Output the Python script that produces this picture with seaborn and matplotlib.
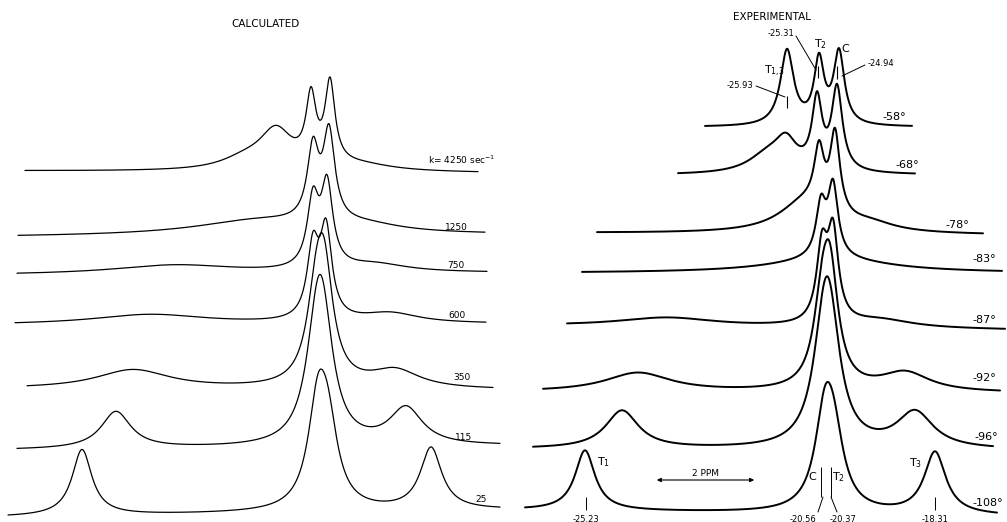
import numpy as np
import matplotlib
matplotlib.use("Agg")
import matplotlib.pyplot as plt
import seaborn as sns

# Shift axis in ppm (same scale as the -108 deg spectrum), intensities in arbitrary units
# Each spectrum = sum of Lorentzian lines: centre (ppm), amplitude, half width (ppm)

# ---- calculated spectra ----
calc_labels = ["k= 4250 sec$^{-1}$", "1250", "750", "600", "350", "115", "25"]
calc_start = [-26.371, -26.510, -26.530, -26.569, -26.331, -26.530, -26.708]
calc_end = [-17.383, -17.245, -17.205, -17.225, -17.086, -16.947, -16.947]
calc_centers = [
    [-22.006, -21.391, -20.697, -20.320, -19.725],
    [-21.709, -20.657, -20.340, -19.625],
    [-23.395, -20.657, -20.379, -19.427],
    [-23.891, -20.657, -20.399, -19.129],
    [-24.228, -20.598, -20.439, -19.030],
    [-24.566, -20.578, -20.459, -18.812],
    [-25.240, -20.558, -20.359, -18.316],
]
calc_heights = [
    [10, 38, 65, 80, 6],
    [15, 71.6, 87.5, 7],
    [9, 66.6, 80.7, 8],
    [10, 70.2, 86.5, 10],
    [19, 67, 105, 18],
    [37, 90, 90, 37],
    [66, 98.5, 66.9, 62],
]
calc_widths = [
    [0.595, 0.397, 0.119, 0.119, 0.794],
    [1.587, 0.139, 0.139, 0.893],
    [1.488, 0.139, 0.139, 0.794],
    [1.389, 0.139, 0.139, 0.694],
    [0.893, 0.218, 0.218, 0.595],
    [0.357, 0.258, 0.258, 0.397],
    [0.238, 0.238, 0.238, 0.258],
]

# ---- experimental spectra ----
exp_labels = ["-58°", "-68°", "-78°", "-83°", "-87°", "-92°", "-96°", "-108°"]
exp_start = [-22.869, -23.405, -25.012, -25.310, -25.607, -26.083, -26.282, -26.440]
exp_end = [-18.762, -18.703, -17.354, -16.977, -16.917, -17.016, -17.155, -17.076]
exp_centers = [
    [-21.242, -20.607, -20.211],
    [-21.619, -21.262, -20.647, -20.250],
    [-20.885, -20.607, -20.290, -19.596],
    [-20.389, -20.568, -20.330],
    [-23.623, -20.548, -20.330, -19.397],
    [-24.199, -20.548, -20.389, -18.901],
    [-24.516, -20.508, -20.389, -18.703],
    [-25.250, -20.488, -20.310, -18.306],
]
exp_heights = [
    [75, 63, 72],
    [18, 27, 68.5, 82],
    [30, 57, 80, 8],
    [14, 51, 70],
    [9, 72, 87, 8],
    [19, 67, 105, 19],
    [38, 90, 90, 36],
    [60, 90.5, 57, 62],
]
exp_widths = [
    [0.159, 0.119, 0.129],
    [0.476, 0.258, 0.119, 0.129],
    [0.635, 0.119, 0.119, 0.595],
    [1.389, 0.119, 0.119],
    [1.19, 0.129, 0.129, 0.794],
    [0.794, 0.198, 0.198, 0.595],
    [0.397, 0.258, 0.258, 0.437],
    [0.238, 0.238, 0.238, 0.258],
]

# peak annotations (ppm values printed on the figure)
low_marks = [-25.23, -20.56, -20.37, -18.31]
top_marks = [-25.93, -25.31, -24.94]
top_ref_shift = 4.69  # the -58 deg spectrum is drawn with a different reference

# ---- layout (vertical stacking offsets, figure pixels from bottom) ----
W, H = 1007, 522
calc_base = [(351, 349), (285, 287), (247, 249), (197, 198), (133, 132), (72, 76), (5, 12)]
exp_base = [(395, 395), (347, 347), (289, 287), (249, 249), (196, 192), (130, 129), (73, 72), (12, 6)]
calc_label_pos = [(428, 160), (445, 228), (447, 265), (448, 315), (453, 377), (455, 437), (475, 499)]
exp_label_pos = [(882, 117), (895, 165), (945, 225), (972, 259), (972, 320), (972, 378), (974, 437), (972, 503)]
XLIM = (-26.867, -16.878)


def spectrum(x, centers, heights, widths):
    y = np.zeros_like(x)
    for c, h, w in zip(centers, heights, widths):
        y += h / (1 + ((x - c) / w) ** 2)
    return y


def fp(x, y):
    # figure pixel (from top-left) -> figure fraction
    return x / W, 1 - y / H


sns.set_style("white")
plt.rcParams['font.family'] = ['DejaVu Sans']
plt.rcParams['text.color'] = 'black'

fig = plt.figure(figsize=(W / 100, H / 100), dpi=100)
ax_l = fig.add_axes([0, 0, 0.5, 1])
ax_r = fig.add_axes([0.5, 0, 0.5, 1])
for ax in (ax_l, ax_r):
    ax.set_xlim(*XLIM)
    ax.set_ylim(0, H)
    ax.axis("off")

# calculated
for i in range(len(calc_labels)):
    xs = np.linspace(calc_start[i], calc_end[i], 1500)
    b0, b1 = calc_base[i]
    base = b0 + (b1 - b0) * (xs - xs[0]) / (xs[-1] - xs[0])
    ys = base + spectrum(xs, calc_centers[i], calc_heights[i], calc_widths[i])
    sns.lineplot(x=xs, y=ys, ax=ax_l, color="black", linewidth=0.9, sort=False, estimator=None)
    lx, ly = calc_label_pos[i]
    fig.text(*fp(lx, ly), calc_labels[i], fontsize=6.5, ha="left", va="center")

# experimental
for i in range(len(exp_labels)):
    xs = np.linspace(exp_start[i], exp_end[i], 1500)
    b0, b1 = exp_base[i]
    base = b0 + (b1 - b0) * (xs - xs[0]) / (xs[-1] - xs[0])
    ys = base + spectrum(xs, exp_centers[i], exp_heights[i], exp_widths[i])
    sns.lineplot(x=xs, y=ys, ax=ax_r, color="black", linewidth=1.4, sort=False, estimator=None)
    lx, ly = exp_label_pos[i]
    fig.text(*fp(lx, ly), exp_labels[i], fontsize=8, ha="left", va="center")

fig.text(*fp(266, 24), "CALCULATED", fontsize=7.5, ha="center", va="center")
fig.text(*fp(772, 17), "EXPERIMENTAL", fontsize=7.5, ha="center", va="center")

# bottom annotations (-108 deg)
ax_r.vlines([low_marks[0], low_marks[3]], H - 510, H - 497, color="black", lw=0.7)
ax_r.vlines([low_marks[1], low_marks[2]], H - 497, H - 467, color="black", lw=0.7)
for xv, lab, (lxp, lyp) in zip(low_marks, ["-25.23", "-20.56", "-20.37", "-18.31"],
                               [(586, 519), (803, 519), (843, 519), (935, 519)]):
    fig.text(*fp(lxp, lyp), lab, fontsize=6, ha="center", va="center")
fig.add_artist(plt.Line2D(*zip(fp(823, 497), fp(818, 512)), color="black", lw=0.7))
fig.add_artist(plt.Line2D(*zip(fp(831, 497), fp(837, 512)), color="black", lw=0.7))
fig.text(*fp(604, 462), "T$_1$", fontsize=8, ha="center", va="center")
fig.text(*fp(916, 463), "T$_3$", fontsize=8, ha="center", va="center")
fig.text(*fp(812, 477), "C", fontsize=8, ha="center", va="center")
fig.text(*fp(839, 477), "T$_2$", fontsize=8, ha="center", va="center")
fig.text(*fp(705, 473), "2 PPM", fontsize=6.5, ha="center", va="center")
ax_r.annotate("", xy=fp(654, 480), xytext=fp(757, 480), xycoords="figure fraction",
              arrowprops=dict(arrowstyle="<|-|>", color="black", lw=0.8, mutation_scale=6))

# top annotations (-58 deg)
top_x = [m + top_ref_shift for m in top_marks]
ax_r.vlines(top_x[0], H - 108, H - 96, color="black", lw=0.8)
ax_r.vlines(top_x[1], H - 78, H - 66, color="black", lw=0.8)
ax_r.vlines(top_x[2], H - 79, H - 66, color="black", lw=0.8)
fig.text(*fp(740, 85), "-25.93", fontsize=6, ha="center", va="center")
fig.text(*fp(781, 33), "-25.31", fontsize=6, ha="center", va="center")
fig.text(*fp(881, 63), "-24.94", fontsize=6, ha="center", va="center")
fig.add_artist(plt.Line2D(*zip(fp(756, 86), fp(785, 97)), color="black", lw=0.7))
fig.add_artist(plt.Line2D(*zip(fp(796, 36), fp(816, 70)), color="black", lw=0.7))
fig.add_artist(plt.Line2D(*zip(fp(865, 65), fp(842, 76)), color="black", lw=0.7))
fig.text(*fp(774, 71), "T$_{1{,}3}$", fontsize=8, ha="center", va="center")
fig.text(*fp(821, 44), "T$_2$", fontsize=8, ha="center", va="center")
fig.text(*fp(845, 49), "C", fontsize=8, ha="center", va="center")

fig.savefig("out.png", dpi=100)
